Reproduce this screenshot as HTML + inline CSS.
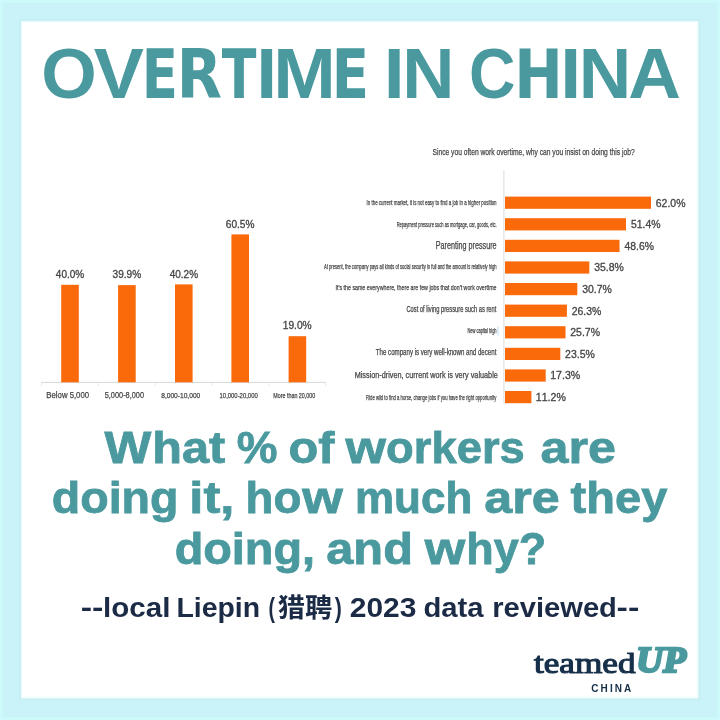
<!DOCTYPE html>
<html lang="en"><head><meta charset="utf-8"><title>Overtime in China</title>
<style>
html,body{margin:0;padding:0;background:#c9f4f8;}
body{width:720px;height:720px;overflow:hidden;}
svg{display:block;font-kerning:none;}
text{font-kerning:none;white-space:pre;}
</style></head><body>
<svg width="720" height="720" viewBox="0 0 720 720">
<rect x="0" y="0" width="720" height="720" fill="#cdfafb"/>
<rect x="2.8" y="2.8" width="714.4" height="714.4" fill="#c9f3f8"/>
<rect x="19" y="19" width="681.5" height="681.5" fill="#c7eef2"/>
<rect x="21" y="21" width="677.5" height="677.5" fill="#eefcfd"/>
<rect x="22.5" y="22.5" width="674.3" height="674.3" fill="#ffffff"/>
<text aria-label="OVERTIME IN CHINA" y="97.60" style="font-family:'Liberation Sans',sans-serif;font-weight:700;font-size:70.78px" fill="#4a999e"><tspan x="41.28" textLength="55.47" lengthAdjust="spacingAndGlyphs" style="font-family:'Liberation Sans',sans-serif;font-weight:700;font-size:70.78px">O</tspan><tspan x="93.69" textLength="50.13" lengthAdjust="spacingAndGlyphs" style="font-family:'Liberation Sans',sans-serif;font-weight:700;font-size:70.78px">V</tspan><tspan x="141.83" textLength="36.25" lengthAdjust="spacingAndGlyphs" style="font-family:'DejaVu Sans',sans-serif;font-weight:700;font-stretch:condensed;font-size:66.80px">E</tspan><tspan x="176.71" textLength="45.27" lengthAdjust="spacingAndGlyphs" style="font-family:'DejaVu Sans',sans-serif;font-weight:700;font-stretch:condensed;font-size:66.80px">R</tspan><tspan x="221.85" textLength="34.67" lengthAdjust="spacingAndGlyphs" style="font-family:'DejaVu Sans',sans-serif;font-weight:700;font-stretch:condensed;font-size:66.80px">T</tspan><tspan x="256.21" textLength="20.93" lengthAdjust="spacingAndGlyphs" style="font-family:'Liberation Sans',sans-serif;font-weight:700;font-size:70.78px">I</tspan><tspan x="273.28" textLength="62.55" lengthAdjust="spacingAndGlyphs" style="font-family:'Liberation Sans',sans-serif;font-weight:700;font-size:70.78px">M</tspan><tspan x="331.69" textLength="37.31" lengthAdjust="spacingAndGlyphs" style="font-family:'DejaVu Sans',sans-serif;font-weight:700;font-stretch:condensed;font-size:66.80px">E</tspan> <tspan x="383.71" textLength="20.93" lengthAdjust="spacingAndGlyphs" style="font-family:'Liberation Sans',sans-serif;font-weight:700;font-size:70.78px">I</tspan><tspan x="402.26" textLength="52.21" lengthAdjust="spacingAndGlyphs" style="font-family:'Liberation Sans',sans-serif;font-weight:700;font-size:70.78px">N</tspan> <tspan x="469.06" textLength="46.45" lengthAdjust="spacingAndGlyphs" style="font-family:'Liberation Sans',sans-serif;font-weight:700;font-size:70.78px">C</tspan><tspan x="514.28" textLength="48.54" lengthAdjust="spacingAndGlyphs" style="font-family:'DejaVu Sans',sans-serif;font-weight:700;font-stretch:condensed;font-size:66.80px">H</tspan><tspan x="560.36" textLength="20.93" lengthAdjust="spacingAndGlyphs" style="font-family:'Liberation Sans',sans-serif;font-weight:700;font-size:70.78px">I</tspan><tspan x="578.89" textLength="52.51" lengthAdjust="spacingAndGlyphs" style="font-family:'Liberation Sans',sans-serif;font-weight:700;font-size:70.78px">N</tspan><tspan x="628.18" textLength="52.64" lengthAdjust="spacingAndGlyphs" style="font-family:'Liberation Sans',sans-serif;font-weight:700;font-size:70.78px">A</tspan></text>
<rect x="41" y="381.9" width="285" height="1" fill="#d8d8d8"/>
<rect x="41.0" y="382.3" width="0.8" height="3.4" fill="#e2e2e2"/>
<rect x="97.9" y="382.3" width="0.8" height="3.4" fill="#e2e2e2"/>
<rect x="154.8" y="382.3" width="0.8" height="3.4" fill="#e2e2e2"/>
<rect x="211.7" y="382.3" width="0.8" height="3.4" fill="#e2e2e2"/>
<rect x="268.6" y="382.3" width="0.8" height="3.4" fill="#e2e2e2"/>
<rect x="325.5" y="382.3" width="0.8" height="3.4" fill="#e2e2e2"/>
<rect x="61.2" y="284.8" width="17.6" height="97.5" fill="#fa690a"/>
<text x="55.87" y="278.00" textLength="28.39" lengthAdjust="spacingAndGlyphs" style="font-family:'Liberation Sans',sans-serif;font-weight:400;font-size:10.0px" fill="#454545" stroke="#454545" stroke-width="0.3">40.0%</text>
<rect x="118.1" y="285.1" width="17.6" height="97.2" fill="#fa690a"/>
<text x="112.62" y="278.30" textLength="28.54" lengthAdjust="spacingAndGlyphs" style="font-family:'Liberation Sans',sans-serif;font-weight:400;font-size:10.0px" fill="#454545" stroke="#454545" stroke-width="0.3">39.9%</text>
<rect x="175.0" y="284.4" width="17.6" height="97.9" fill="#fa690a"/>
<text x="169.67" y="277.60" textLength="28.39" lengthAdjust="spacingAndGlyphs" style="font-family:'Liberation Sans',sans-serif;font-weight:400;font-size:10.0px" fill="#454545" stroke="#454545" stroke-width="0.3">40.2%</text>
<rect x="231.4" y="234.4" width="17.6" height="147.9" fill="#fa690a"/>
<text x="225.79" y="227.60" textLength="28.67" lengthAdjust="spacingAndGlyphs" style="font-family:'Liberation Sans',sans-serif;font-weight:400;font-size:10.0px" fill="#454545" stroke="#454545" stroke-width="0.3">60.5%</text>
<rect x="288.6" y="336.2" width="17.6" height="46.1" fill="#fa690a"/>
<text x="282.72" y="329.40" textLength="28.94" lengthAdjust="spacingAndGlyphs" style="font-family:'Liberation Sans',sans-serif;font-weight:400;font-size:10.0px" fill="#454545" stroke="#454545" stroke-width="0.3">19.0%</text>
<text x="46.36" y="398.00" textLength="42.69" lengthAdjust="spacingAndGlyphs" style="font-family:'Liberation Sans',sans-serif;font-weight:400;font-size:9.4px" fill="#454545" stroke="#454545" stroke-width="0.25">Below 5,000</text>
<text x="104.70" y="398.00" textLength="39.33" lengthAdjust="spacingAndGlyphs" style="font-family:'Liberation Sans',sans-serif;font-weight:400;font-size:9.0px" fill="#454545" stroke="#454545" stroke-width="0.25">5,000-8,000</text>
<text x="161.21" y="398.00" textLength="39.05" lengthAdjust="spacingAndGlyphs" style="font-family:'Liberation Sans',sans-serif;font-weight:400;font-size:7.6px" fill="#454545" stroke="#454545" stroke-width="0.25">8,000-10,000</text>
<text x="219.55" y="398.00" textLength="38.18" lengthAdjust="spacingAndGlyphs" style="font-family:'Liberation Sans',sans-serif;font-weight:400;font-size:7.8px" fill="#454545" stroke="#454545" stroke-width="0.25">10,000-20,000</text>
<text x="273.31" y="398.00" textLength="41.90" lengthAdjust="spacingAndGlyphs" style="font-family:'Liberation Sans',sans-serif;font-weight:400;font-size:7.4px" fill="#454545" stroke="#454545" stroke-width="0.25">More than 20,000</text>
<text x="432.50" y="154.90" textLength="202.15" lengthAdjust="spacingAndGlyphs" style="font-family:'Liberation Sans',sans-serif;font-weight:400;font-size:9.6px" fill="#454545" stroke="#454545" stroke-width="0.25">Since you often work overtime, why can you insist on doing this job?</text>
<rect x="503.4" y="170" width="1" height="233.5" fill="#dcdcdc"/>
<rect x="505" y="196.6" width="146.0" height="12.2" fill="#fa690a"/>
<text x="655.78" y="206.50" textLength="29.71" lengthAdjust="spacingAndGlyphs" style="font-family:'Liberation Sans',sans-serif;font-weight:400;font-size:10.4px" fill="#454545" stroke="#454545" stroke-width="0.3">62.0%</text>
<text x="366.59" y="205.14" textLength="129.99" lengthAdjust="spacingAndGlyphs" style="font-family:'Liberation Sans',sans-serif;font-weight:400;font-size:7.4px" fill="#454545" stroke="#454545" stroke-width="0.25">In the current market, it is not easy to find a job in a higher position</text>
<rect x="505" y="218.2" width="121.0" height="12.2" fill="#fa690a"/>
<text x="630.93" y="228.10" textLength="29.59" lengthAdjust="spacingAndGlyphs" style="font-family:'Liberation Sans',sans-serif;font-weight:400;font-size:10.4px" fill="#454545" stroke="#454545" stroke-width="0.3">51.4%</text>
<text x="396.67" y="226.74" textLength="100.00" lengthAdjust="spacingAndGlyphs" style="font-family:'Liberation Sans',sans-serif;font-weight:400;font-size:7.4px" fill="#454545" stroke="#454545" stroke-width="0.25">Repayment pressure such as mortgage, car, goods, etc.</text>
<rect x="505" y="239.8" width="114.5" height="12.2" fill="#fa690a"/>
<text x="624.51" y="249.70" textLength="29.41" lengthAdjust="spacingAndGlyphs" style="font-family:'Liberation Sans',sans-serif;font-weight:400;font-size:10.4px" fill="#454545" stroke="#454545" stroke-width="0.3">48.6%</text>
<text x="435.81" y="249.20" textLength="60.81" lengthAdjust="spacingAndGlyphs" style="font-family:'Liberation Sans',sans-serif;font-weight:400;font-size:10.0px" fill="#454545" stroke="#454545" stroke-width="0.25">Parenting pressure</text>
<rect x="505" y="261.4" width="84.3" height="12.2" fill="#fa690a"/>
<text x="594.21" y="271.30" textLength="29.57" lengthAdjust="spacingAndGlyphs" style="font-family:'Liberation Sans',sans-serif;font-weight:400;font-size:10.4px" fill="#454545" stroke="#454545" stroke-width="0.3">35.8%</text>
<text x="323.99" y="268.74" textLength="172.57" lengthAdjust="spacingAndGlyphs" style="font-family:'Liberation Sans',sans-serif;font-weight:400;font-size:7.4px" fill="#454545" stroke="#454545" stroke-width="0.25">At present, the company pays all kinds of social security in full and the amount is relatively high</text>
<rect x="505" y="283.0" width="72.3" height="12.2" fill="#fa690a"/>
<text x="582.20" y="292.90" textLength="29.57" lengthAdjust="spacingAndGlyphs" style="font-family:'Liberation Sans',sans-serif;font-weight:400;font-size:10.4px" fill="#454545" stroke="#454545" stroke-width="0.3">30.7%</text>
<text x="335.51" y="290.41" textLength="161.02" lengthAdjust="spacingAndGlyphs" style="font-family:'Liberation Sans',sans-serif;font-weight:400;font-size:7.6px" fill="#454545" stroke="#454545" stroke-width="0.25">It's the same everywhere, there are few jobs that don't work overtime</text>
<rect x="505" y="304.6" width="61.9" height="12.2" fill="#fa690a"/>
<text x="571.71" y="314.50" textLength="29.70" lengthAdjust="spacingAndGlyphs" style="font-family:'Liberation Sans',sans-serif;font-weight:400;font-size:10.4px" fill="#454545" stroke="#454545" stroke-width="0.3">26.3%</text>
<text x="406.41" y="312.21" textLength="89.93" lengthAdjust="spacingAndGlyphs" style="font-family:'Liberation Sans',sans-serif;font-weight:400;font-size:8.2px" fill="#454545" stroke="#454545" stroke-width="0.25">Cost of living pressure such as rent</text>
<rect x="505" y="326.2" width="60.5" height="12.2" fill="#fa690a"/>
<text x="570.30" y="336.10" textLength="29.70" lengthAdjust="spacingAndGlyphs" style="font-family:'Liberation Sans',sans-serif;font-weight:400;font-size:10.4px" fill="#454545" stroke="#454545" stroke-width="0.3">25.7%</text>
<text x="467.47" y="333.28" textLength="29.08" lengthAdjust="spacingAndGlyphs" style="font-family:'Liberation Sans',sans-serif;font-weight:400;font-size:6.6px" fill="#454545" stroke="#454545" stroke-width="0.25">New capital high</text>
<rect x="505" y="347.8" width="55.3" height="12.2" fill="#fa690a"/>
<text x="565.12" y="357.70" textLength="29.70" lengthAdjust="spacingAndGlyphs" style="font-family:'Liberation Sans',sans-serif;font-weight:400;font-size:10.4px" fill="#454545" stroke="#454545" stroke-width="0.3">23.5%</text>
<text x="375.86" y="355.41" textLength="120.48" lengthAdjust="spacingAndGlyphs" style="font-family:'Liberation Sans',sans-serif;font-weight:400;font-size:8.2px" fill="#454545" stroke="#454545" stroke-width="0.25">The company is very well-known and decent</text>
<rect x="505" y="369.4" width="40.7" height="12.2" fill="#fa690a"/>
<text x="550.24" y="379.30" textLength="29.98" lengthAdjust="spacingAndGlyphs" style="font-family:'Liberation Sans',sans-serif;font-weight:400;font-size:10.4px" fill="#454545" stroke="#454545" stroke-width="0.3">17.3%</text>
<text x="354.70" y="378.40" textLength="143.12" lengthAdjust="spacingAndGlyphs" style="font-family:'Liberation Sans',sans-serif;font-weight:400;font-size:8.8px" fill="#454545" stroke="#454545" stroke-width="0.25">Mission-driven, current work is very valuable</text>
<rect x="505" y="391.0" width="26.4" height="12.2" fill="#fa690a"/>
<text x="535.87" y="400.90" textLength="29.98" lengthAdjust="spacingAndGlyphs" style="font-family:'Liberation Sans',sans-serif;font-weight:400;font-size:10.4px" fill="#454545" stroke="#454545" stroke-width="0.3">11.2%</text>
<text x="366.05" y="399.54" textLength="130.25" lengthAdjust="spacingAndGlyphs" style="font-family:'Liberation Sans',sans-serif;font-weight:400;font-size:7.4px" fill="#454545" stroke="#454545" stroke-width="0.25">Ride wild to find a horse, change jobs if you have the right opportunity</text>
<rect x="497.6" y="326.5" width="0.8" height="9" fill="#a9d4ea"/>
<text aria-label="What % of workers are" y="462.60" style="font-family:'Liberation Sans',sans-serif;font-weight:700;font-size:43.5px" fill="#4a999e" stroke="#4a999e" stroke-width="0.8"><tspan x="104.55" textLength="46.80" lengthAdjust="spacingAndGlyphs">W</tspan><tspan x="152.31" textLength="72.89" lengthAdjust="spacingAndGlyphs">hat</tspan> <tspan x="236.76" textLength="40.75" lengthAdjust="spacingAndGlyphs">%</tspan> <tspan x="288.50" textLength="46.01" lengthAdjust="spacingAndGlyphs">of</tspan> <tspan x="345.55" textLength="40.45" lengthAdjust="spacingAndGlyphs">w</tspan><tspan x="386.13" textLength="138.63" lengthAdjust="spacingAndGlyphs">orkers</tspan> <tspan x="540.63" textLength="75.39" lengthAdjust="spacingAndGlyphs">are</tspan></text>
<text aria-label="doing it, how much are they" y="513.30" style="font-family:'Liberation Sans',sans-serif;font-weight:700;font-size:43.5px" fill="#4a999e" stroke="#4a999e" stroke-width="0.8"><tspan x="51.79" textLength="126.73" lengthAdjust="spacingAndGlyphs">doing</tspan> <tspan x="189.37" textLength="44.91" lengthAdjust="spacingAndGlyphs">it,</tspan> <tspan x="245.51" textLength="55.88" lengthAdjust="spacingAndGlyphs">ho</tspan><tspan x="302.25" textLength="40.55" lengthAdjust="spacingAndGlyphs">w</tspan> <tspan x="355.00" textLength="117.33" lengthAdjust="spacingAndGlyphs">much</tspan> <tspan x="484.23" textLength="75.39" lengthAdjust="spacingAndGlyphs">are</tspan> <tspan x="570.63" textLength="96.73" lengthAdjust="spacingAndGlyphs">they</tspan></text>
<text aria-label="doing, and why?" y="564.00" style="font-family:'Liberation Sans',sans-serif;font-weight:700;font-size:43.5px" fill="#4a999e" stroke="#4a999e" stroke-width="0.8"><tspan x="174.68" textLength="140.35" lengthAdjust="spacingAndGlyphs">doing,</tspan> <tspan x="326.27" textLength="86.64" lengthAdjust="spacingAndGlyphs">and</tspan> <tspan x="424.75" textLength="40.45" lengthAdjust="spacingAndGlyphs">w</tspan><tspan x="466.26" textLength="79.82" lengthAdjust="spacingAndGlyphs">hy?</tspan></text>
<text aria-label="--local Liepin (猎聘) 2023 data reviewed--" y="616.9" style="font-family:'Liberation Sans','Noto Sans CJK SC',sans-serif;font-weight:700;font-size:26.8px" fill="#1b2a45"><tspan x="80.77" y="616.90" textLength="22.70" lengthAdjust="spacingAndGlyphs">--</tspan><tspan x="102.93" y="616.90" textLength="67.46" lengthAdjust="spacingAndGlyphs">local</tspan> <tspan x="176.40" y="616.90" textLength="83.66" lengthAdjust="spacingAndGlyphs">Liepin</tspan> <tspan x="268.43" y="616.90" textLength="6.49" lengthAdjust="spacingAndGlyphs">(</tspan><tspan x="277.70" y="617.10" textLength="54.60" lengthAdjust="spacingAndGlyphs" style="font-size:25.6px">猎聘</tspan><tspan x="334.68" y="616.90" textLength="7.08" lengthAdjust="spacingAndGlyphs">)</tspan> <tspan x="349.76" y="616.90" textLength="66.72" lengthAdjust="spacingAndGlyphs">2023</tspan> <tspan x="423.40" y="616.90" textLength="60.16" lengthAdjust="spacingAndGlyphs">data</tspan> <tspan x="492.28" y="616.90" textLength="124.64" lengthAdjust="spacingAndGlyphs">reviewed</tspan><tspan x="616.57" y="616.90" textLength="22.70" lengthAdjust="spacingAndGlyphs">--</tspan></text>
<text x="533.96" y="673.20" textLength="101.52" lengthAdjust="spacingAndGlyphs" style="font-family:'Liberation Serif',serif;font-weight:400;font-size:29.2px" fill="#17304a" stroke="#17304a" stroke-width="1.1">teamed</text>
<text x="636.37" y="672.45" textLength="49.60" lengthAdjust="spacingAndGlyphs" style="font-family:'Liberation Serif',serif;font-weight:700;font-style:italic;font-size:35.8px" fill="#4a999e" stroke="#4a999e" stroke-width="2.6">UP</text>
<text x="591.29" y="691.5" style="font-family:'Liberation Sans',sans-serif;font-weight:700;font-size:10.0px;letter-spacing:2.08px" fill="#17304a">CHINA</text>
</svg>
</body></html>
